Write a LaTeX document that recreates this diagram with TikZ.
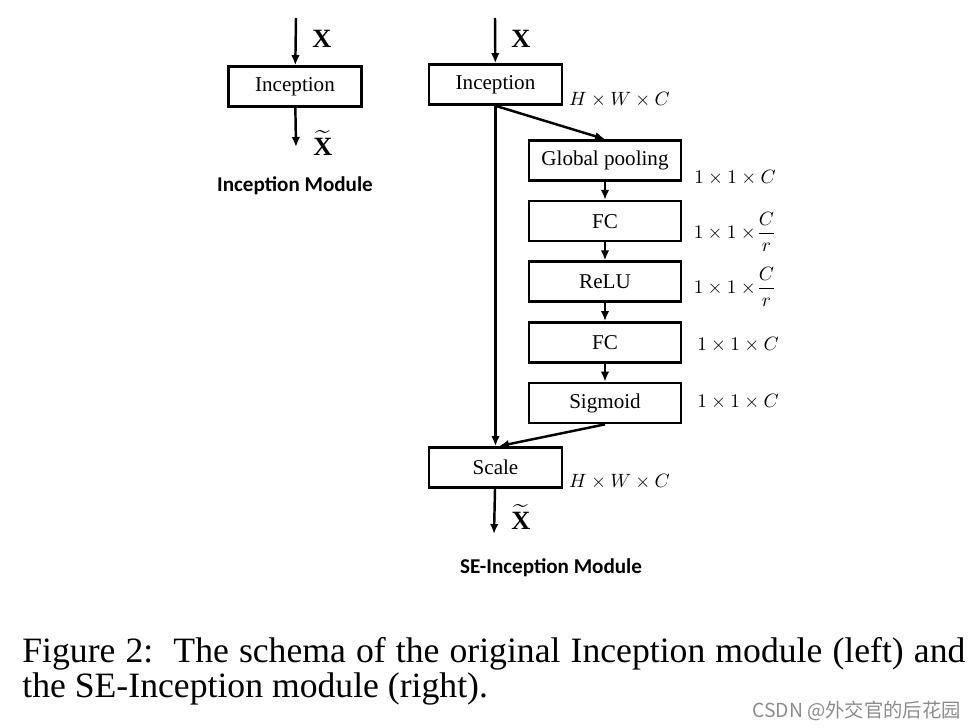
\documentclass[tikz,border=0pt]{standalone}
\usepackage{amsmath,amssymb}
\usepackage{fontspec}
\setmainfont{Liberation Serif}
\newfontfamily\labelsans{Carlito}
\newfontfamily\cjk{Noto Sans CJK SC}
\usepackage{tikz}
\usetikzlibrary{arrows.meta,positioning,calc}

\begin{document}
\begin{tikzpicture}[
    node distance=0.36cm,
    every node/.style={font=\fontsize{12}{14}\selectfont},
    block/.style={
        rectangle,
        draw,
        line width=1.5pt,
        align=center,
        minimum width=2.66cm,
        minimum height=0.8cm,
        inner sep=2pt
    },
    seblock/.style={block, minimum width=3.04cm},
    dimlabel/.style={font=\fontsize{10.5}{12}\selectfont},
    varlabel/.style={font=\fontsize{15}{17}\selectfont},
    title/.style={font=\labelsans\bfseries\fontsize{12}{14}\selectfont},
    caption/.style={anchor=base west, inner sep=0pt, font=\fontsize{20.3}{24}\selectfont},
    arrow/.style={-{Latex[length=2mm,width=1.7mm]}, line width=1.4pt}
]
\useasboundingbox (0,0) rectangle (19.56,-14.56);

% left: plain inception
\node[block] (inc) at (5.9,-1.73) {Inception};
\coordinate (inctop) at (5.92,-0.36);
\coordinate (incout) at (5.92,-2.94);
\node[varlabel] (incx) at (6.44,-0.78) {\textbf{X}};
\node[varlabel] (incxt) at (6.46,-2.86) {$\widetilde{\mathbf{X}}$};
\node[title] (inctitle) at (5.9,-3.72) {Inception Module};

\draw[arrow] (inctop) -- (inc);
\draw[arrow] (inc) -- (incout);

% right: SE-inception
\node[block] (seinc) at (9.91,-1.69) {Inception};
\coordinate (seintop) at (9.9,-0.36);
\node[varlabel] (sex) at (10.42,-0.78) {\textbf{X}};
\node[dimlabel] (hwc) at (12.39,-2.0) {$H\times W\times C$};

\node[seblock] (pool) at (12.1,-3.21) {Global pooling};
\node[seblock, below=of pool] (fca) {FC};
\node[seblock, below=of fca] (relu) {ReLU};
\node[seblock, below=of relu] (fcb) {FC};
\node[seblock, below=of fcb] (sig) {Sigmoid};

\node[dimlabel] (dpool) at (14.7,-3.56) {$1\times1\times C$};
\node[dimlabel] (dfca) at (14.7,-4.64) {$1\times1\times\!\dfrac{C}{r}$};
\node[dimlabel] (drelu) at (14.7,-5.74) {$1\times1\times\!\dfrac{C}{r}$};
\node[dimlabel] (dfcb) at (14.76,-6.9) {$1\times1\times C$};
\node[dimlabel] (dsig) at (14.76,-8.04) {$1\times1\times C$};

\node[block] (scale) at (9.91,-9.35) {Scale};
\coordinate (seout) at (9.88,-10.68);
\node[varlabel] (sext) at (10.42,-10.34) {$\widetilde{\mathbf{X}}$};
\node[dimlabel] (hwcb) at (12.39,-9.64) {$H\times W\times C$};
\node[title] (setitle) at (11.02,-11.36) {SE-Inception Module};

\draw[arrow] (seintop) -- (seinc);
\draw[arrow] (seinc.south) -- (pool.north);
\draw[arrow] (pool) -- (fca);
\draw[arrow] (fca) -- (relu);
\draw[arrow] (relu) -- (fcb);
\draw[arrow] (fcb) -- (sig);
\draw[arrow] (seinc.south) -- (seinc.south |- scale.north);
\draw[arrow] (sig.south) -- ([xshift=2pt]scale.north);
\draw[arrow] (scale) -- (seout);

% caption
\node[caption] (capa) at (0.44,-13.26)
{\makebox[18.86cm][s]{Figure 2:\ \ The schema of the original Inception module (left) and}};
\node[caption] (capb) at (0.44,-13.96)
{the SE-Inception module (right).};
\node[anchor=base west, inner sep=0pt, text=black!45, font=\cjk\fontsize{11}{13}\selectfont] (mark) at (15.04,-14.36)
{CSDN @外交官的后花园};

\end{tikzpicture}
\end{document}
